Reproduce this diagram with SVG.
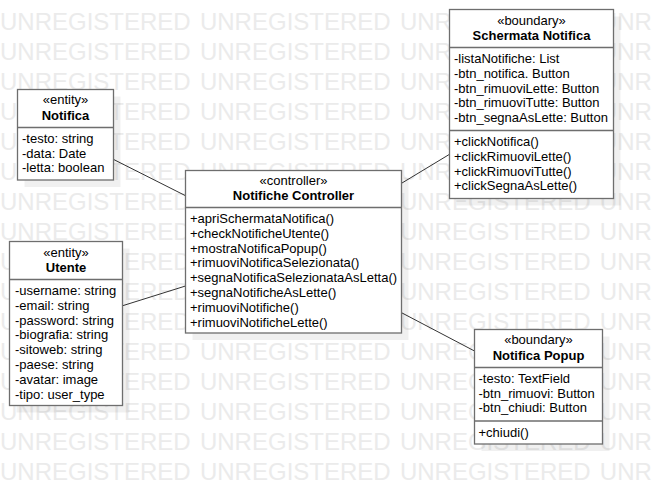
<svg xmlns="http://www.w3.org/2000/svg" width="652" height="485" viewBox="0 0 652 485">
<style>
.wm{font-family:"Liberation Sans",Arial,sans-serif;font-size:24px;fill:#ebebeb;word-spacing:2.6px}
.box{fill:#ffffff;stroke:#6e6e6e;stroke-width:1.3}
.sep{stroke:#6e6e6e;stroke-width:1.3}
.sh{fill:#000000;fill-opacity:0.06}
.t{font-family:"Liberation Sans",Arial,sans-serif;font-size:13px;fill:#000000}
.c{text-anchor:middle}
.b{font-weight:bold}
.edge{stroke:#333333;stroke-width:1;fill:none}
</style>
<rect x="0" y="0" width="652" height="485" fill="#ffffff"/>
<g id="watermark">
<text class="wm" x="0" y="30">UNREGISTERED UNREGISTERED UNREGISTERED UNREGISTERED</text>
<text class="wm" x="0" y="60">UNREGISTERED UNREGISTERED UNREGISTERED UNREGISTERED</text>
<text class="wm" x="0" y="90">UNREGISTERED UNREGISTERED UNREGISTERED UNREGISTERED</text>
<text class="wm" x="0" y="120">UNREGISTERED UNREGISTERED UNREGISTERED UNREGISTERED</text>
<text class="wm" x="0" y="150">UNREGISTERED UNREGISTERED UNREGISTERED UNREGISTERED</text>
<text class="wm" x="0" y="180">UNREGISTERED UNREGISTERED UNREGISTERED UNREGISTERED</text>
<text class="wm" x="0" y="210">UNREGISTERED UNREGISTERED UNREGISTERED UNREGISTERED</text>
<text class="wm" x="0" y="240">UNREGISTERED UNREGISTERED UNREGISTERED UNREGISTERED</text>
<text class="wm" x="0" y="270">UNREGISTERED UNREGISTERED UNREGISTERED UNREGISTERED</text>
<text class="wm" x="0" y="300">UNREGISTERED UNREGISTERED UNREGISTERED UNREGISTERED</text>
<text class="wm" x="0" y="330">UNREGISTERED UNREGISTERED UNREGISTERED UNREGISTERED</text>
<text class="wm" x="0" y="360">UNREGISTERED UNREGISTERED UNREGISTERED UNREGISTERED</text>
<text class="wm" x="0" y="390">UNREGISTERED UNREGISTERED UNREGISTERED UNREGISTERED</text>
<text class="wm" x="0" y="420">UNREGISTERED UNREGISTERED UNREGISTERED UNREGISTERED</text>
<text class="wm" x="0" y="450">UNREGISTERED UNREGISTERED UNREGISTERED UNREGISTERED</text>
<text class="wm" x="0" y="480">UNREGISTERED UNREGISTERED UNREGISTERED UNREGISTERED</text>
</g>
<g id="connectors">
<line class="edge" x1="113.3" y1="159.3" x2="185.5" y2="195.7"/>
<line class="edge" x1="122.7" y1="305.7" x2="185.5" y2="286"/>
<line class="edge" x1="401.5" y1="183.3" x2="449.5" y2="154.3"/>
<line class="edge" x1="401.5" y1="312.7" x2="474.5" y2="351"/>
</g>
<g id="notifica">
<rect class="sh" x="24.5" y="96.5" width="96" height="90.5"/>
<rect class="box" x="17.5" y="89.5" width="96" height="90.5"/>
<line class="sep" x1="17.5" y1="127.5" x2="113.5" y2="127.5"/>
<text class="t c" x="65.5" y="103.5">«entity»</text>
<text class="t c b" x="65.5" y="120">Notifica</text>
<text class="t" x="22" y="142.6">-testo: string</text>
<text class="t" x="22" y="157.5">-data: Date</text>
<text class="t" x="22" y="172.4">-letta: boolean</text>
</g>
<g id="utente">
<rect class="sh" x="16.5" y="248.5" width="113" height="164"/>
<rect class="box" x="9.5" y="241.5" width="113" height="164"/>
<line class="sep" x1="9.5" y1="279.5" x2="122.5" y2="279.5"/>
<text class="t c" x="66" y="256.5">«entity»</text>
<text class="t c b" x="66" y="271.5">Utente</text>
<text class="t" x="15" y="295">-username: string</text>
<text class="t" x="15" y="309.8">-email: string</text>
<text class="t" x="15" y="324.6">-password: string</text>
<text class="t" x="15" y="339.4">-biografia: string</text>
<text class="t" x="15" y="354.2">-sitoweb: string</text>
<text class="t" x="15" y="369">-paese: string</text>
<text class="t" x="15" y="383.8">-avatar: image</text>
<text class="t" x="15" y="398.6">-tipo: user_type</text>
</g>
<g id="controller">
<rect class="sh" x="192.5" y="177.5" width="216" height="162.5"/>
<rect class="box" x="185.5" y="170.5" width="216" height="162.5"/>
<line class="sep" x1="185.5" y1="207.5" x2="401.5" y2="207.5"/>
<text class="t c" x="293.5" y="185">«controller»</text>
<text class="t c b" x="293.5" y="199.5">Notifiche Controller</text>
<text class="t" x="190" y="223">+apriSchermataNotifica()</text>
<text class="t" x="190" y="237.8">+checkNotificheUtente()</text>
<text class="t" x="190" y="252.6">+mostraNotificaPopup()</text>
<text class="t" x="190" y="267.4">+rimuoviNotificaSelezionata()</text>
<text class="t" x="190" y="282.2">+segnaNotificaSelezionataAsLetta()</text>
<text class="t" x="190" y="297">+segnaNotificheAsLette()</text>
<text class="t" x="190" y="311.8">+rimuoviNotifiche()</text>
<text class="t" x="190" y="326.6">+rimuoviNotificheLette()</text>
</g>
<g id="schermata">
<rect class="sh" x="456.5" y="16.5" width="164" height="189"/>
<rect class="box" x="449.5" y="9.5" width="164" height="189"/>
<line class="sep" x1="449.5" y1="47.5" x2="613.5" y2="47.5"/>
<line class="sep" x1="449.5" y1="130.5" x2="613.5" y2="130.5"/>
<text class="t c" x="531.5" y="24.5">«boundary»</text>
<text class="t c b" x="531.5" y="39.5">Schermata Notifica</text>
<text class="t" x="454" y="63">-listaNotifiche: List</text>
<text class="t" x="454" y="77.8">-btn_notifica. Button</text>
<text class="t" x="454" y="92.6">-btn_rimuoviLette: Button</text>
<text class="t" x="454" y="107.4">-btn_rimuoviTutte: Button</text>
<text class="t" x="454" y="122.2">-btn_segnaAsLette: Button</text>
<text class="t" x="454" y="146">+clickNotifica()</text>
<text class="t" x="454" y="160.8">+clickRimuoviLette()</text>
<text class="t" x="454" y="175.6">+clickRimuoviTutte()</text>
<text class="t" x="454" y="190.4">+clickSegnaAsLette()</text>
</g>
<g id="popup">
<rect class="sh" x="481.5" y="336.5" width="128" height="114.5"/>
<rect class="box" x="474.5" y="329.5" width="128" height="114.5"/>
<line class="sep" x1="474.5" y1="367.5" x2="602.5" y2="367.5"/>
<line class="sep" x1="474.5" y1="421" x2="602.5" y2="421"/>
<text class="t c" x="538.5" y="343.5">«boundary»</text>
<text class="t c b" x="538.5" y="360">Notifica Popup</text>
<text class="t" x="478.5" y="382.7">-testo: TextField</text>
<text class="t" x="478.5" y="397.5">-btn_rimuovi: Button</text>
<text class="t" x="478.5" y="412.3">-btn_chiudi: Button</text>
<text class="t" x="478.5" y="436.5">+chiudi()</text>
</g>
</svg>
